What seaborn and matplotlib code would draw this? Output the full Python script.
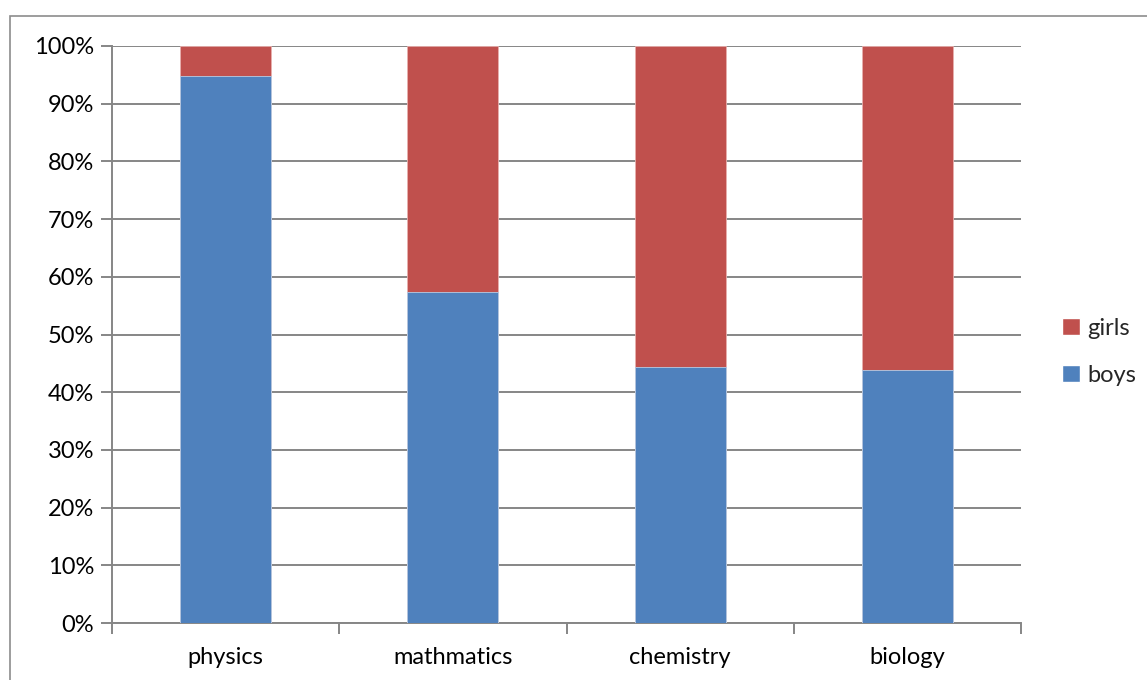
import matplotlib
matplotlib.use("Agg")
import matplotlib.pyplot as plt
import seaborn as sns
import pandas as pd
from matplotlib.patches import Patch, Rectangle
from matplotlib.ticker import FuncFormatter

subjects = ["physics", "mathmatics", "chemistry", "biology"]
boys = [94.8, 57.3, 44.3, 43.9]
girls = [5.2, 42.7, 55.7, 56.1]

blue = "#4F81BD"
red = "#C0504D"
grid = "#868686"

sns.set_theme(style="white")
plt.rcParams["font.family"] = ["Lato", "DejaVu Sans"]

df = pd.DataFrame({"subject": subjects, "boys": boys, "girls": girls})
df["total"] = df["boys"] + df["girls"]

fig = plt.figure(figsize=(11.47, 6.8), dpi=100)
ax = fig.add_axes([112 / 1147, 57 / 680, 909 / 1147, 577 / 680])

# outer chart frame
fig.patches.append(Rectangle((10 / 1147, -0.05), 1.2, (680 - 16) / 680 + 0.05,
                             transform=fig.transFigure, fill=False,
                             edgecolor="#8C8C8C", linewidth=1.2, zorder=0))

# stacked 100% columns: girls segment drawn as full height, boys on top of it
sns.barplot(data=df, x="subject", y="total", color=red, width=0.4,
            edgecolor="#E8B0AE", linewidth=0.6, ax=ax, zorder=3, saturation=1)
sns.barplot(data=df, x="subject", y="boys", color=blue, width=0.4,
            edgecolor="#B9CCE4", linewidth=0.6, ax=ax, zorder=4, saturation=1)

ax.set_xlim(-0.5, len(subjects) - 0.5)
ax.set_ylim(0, 100)
ax.set_yticks(range(0, 101, 10))
ax.yaxis.set_major_formatter(FuncFormatter(lambda v, p: f"{int(v)}%"))
ax.grid(axis="y", color=grid, linewidth=1.4, zorder=0)
ax.set_axisbelow(True)
ax.set_xlabel("")
ax.set_ylabel("")

for side in ["top", "right"]:
    ax.spines[side].set_visible(False)
for side in ["left", "bottom"]:
    ax.spines[side].set_color(grid)
    ax.spines[side].set_linewidth(1.4)

# category boundary ticks on x, outward ticks on y
ax.set_xticks([i + 0.5 for i in range(-1, len(subjects))], minor=True)
ax.tick_params(axis="x", which="minor", length=8, width=1.4, color=grid, bottom=True)
ax.tick_params(axis="x", which="major", length=0, labelsize=17, pad=17, colors="black")
ax.tick_params(axis="y", which="major", length=8, width=1.4, color=grid, left=True,
               labelsize=17, pad=5, colors="black")

handles = [Patch(facecolor=red, label="girls"), Patch(facecolor=blue, label="boys")]
fig.legend(handles=handles, loc="center left", bbox_to_anchor=(1053 / 1147, 1 - 352 / 680),
           frameon=False, fontsize=17, handlelength=0.75, handleheight=0.75,
           handletextpad=0.3, labelspacing=1.1, borderaxespad=0)

fig.savefig("out.png", dpi=100)
